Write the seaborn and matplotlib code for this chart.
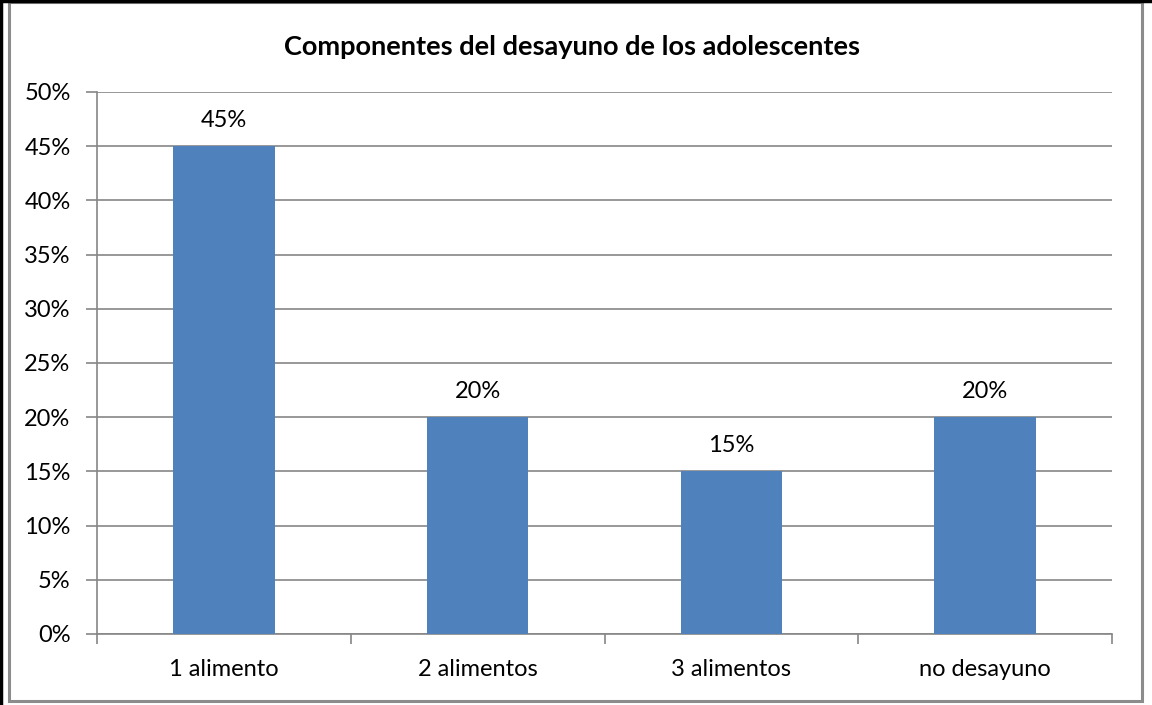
import matplotlib
matplotlib.use("Agg")
import matplotlib.pyplot as plt
import seaborn as sns
import pandas as pd
from matplotlib.ticker import FuncFormatter, MultipleLocator
from matplotlib.patches import Rectangle
from matplotlib.lines import Line2D

categories = ["1 alimento", "2 alimentos", "3 alimentos", "no desayuno"]
values = [0.45, 0.20, 0.15, 0.20]
bar_labels = ["45%", "20%", "15%", "20%"]
title = "Componentes del desayuno de los adolescentes"

sns.set_theme(style="white")
plt.rcParams['font.family'] = ['Lato', 'DejaVu Sans']

df = pd.DataFrame({"cat": categories, "val": values})

W, H = 1152, 705
fig = plt.figure(figsize=(W / 100, H / 100), dpi=100)
ax = fig.add_axes([97 / W, 1 - 634 / H, (1112 - 97) / W, (634 - 92) / H])

sns.barplot(data=df, x="cat", y="val", color="#4F81BD", saturation=1,
            width=0.4, ax=ax, zorder=3, linewidth=0, edgecolor="none")

ax.set_ylim(0, 0.5)
ax.set_xlim(-0.5, 3.5)
ax.yaxis.set_major_locator(MultipleLocator(0.05))
ax.yaxis.set_major_formatter(FuncFormatter(lambda v, p: f"{round(v * 100)}%"))
ax.grid(axis="y", color="#868686", linewidth=1.2, zorder=0)
ax.grid(axis="x", visible=False)
ax.set_axisbelow(True)
ax.set_xlabel("")
ax.set_ylabel("")

for s in ["top", "right"]:
    ax.spines[s].set_visible(False)
for s in ["left", "bottom"]:
    ax.spines[s].set_color("#868686")
    ax.spines[s].set_linewidth(1.2)

ax.tick_params(axis="y", which="major", length=8, width=1.2, color="#868686",
               labelsize=17, pad=11, left=True, labelcolor="black")
ax.tick_params(axis="x", which="major", length=0, labelsize=17, pad=18,
               labelcolor="black")
# minor ticks at category boundaries
ax.set_xticks([-0.5, 0.5, 1.5, 2.5, 3.5], minor=True)
ax.tick_params(axis="x", which="minor", length=7, width=1.2, color="#868686",
               bottom=True)

for i, (v, lab) in enumerate(zip(values, bar_labels)):
    ax.annotate(lab, (i, v), xytext=(0, 11), textcoords="offset points",
                ha="center", va="bottom", fontsize=17, color="black")

fig.text(572 / W, 1 - 47 / H, title, ha="center", va="center",
         fontsize=19.5, fontweight="bold", color="black")

# frame borders
fig.add_artist(Rectangle((9 / W, 1 - 701 / H), (1142 - 9) / W, (701 - 2) / H,
                         transform=fig.transFigure, fill=False,
                         edgecolor="#8C8C8C", linewidth=2.2))
fig.add_artist(Line2D([0, 1], [1 - 1 / H, 1 - 1 / H], transform=fig.transFigure,
                      color="black", linewidth=2.5))
fig.add_artist(Line2D([1 / W, 1 / W], [0, 1], transform=fig.transFigure,
                      color="black", linewidth=2.5))

fig.savefig("out.png", dpi=100, facecolor="white")
